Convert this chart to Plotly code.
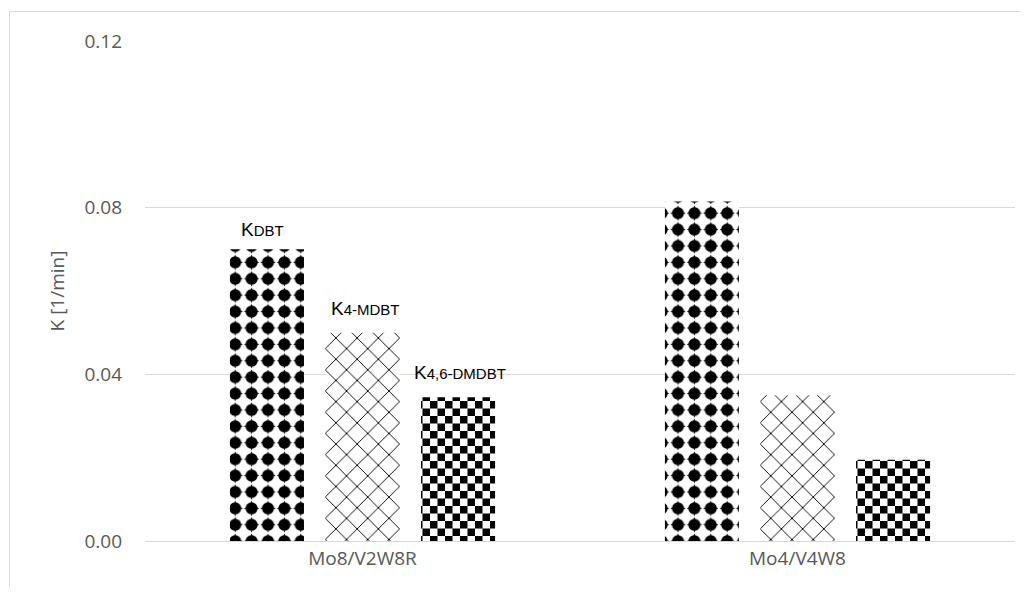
import plotly.graph_objects as go

categories = ["Mo8/V2W8R", "Mo4/V4W8"]
k_dbt = [0.070, 0.0815]
k_4mdbt = [0.050, 0.035]
k_46dmdbt = [0.0345, 0.0195]
labels_dbt = ["K<span style='font-size:15px'>DBT</span>", ""]
labels_4mdbt = ["K<span style='font-size:15px'>4-MDBT</span>", ""]
labels_46 = ["K<span style='font-size:15px'>4,6-DMDBT</span>", ""]
y_ticks = [0.00, 0.04, 0.08, 0.12]

blob_path = ("M2.2,8.2 A6,6 0 1,1 14.2,8.2 A6,6 0 1,1 2.2,8.2 Z "
             "M8.2,0.6 Q10.2,6.2 15.8,8.2 Q10.2,10.2 8.2,15.8 Q6.2,10.2 0.6,8.2 Q6.2,6.2 8.2,0.6 Z")
checker_path = "M0,0H7.5V7.5H0Z M7.5,7.5H15V15H7.5Z"

series = [
    ("KDBT", k_dbt, labels_dbt, dict(path=blob_path, size=16.4), -5, 7),
    ("K4-MDBT", k_4mdbt, labels_4mdbt, dict(shape="x", size=15, solidity=0.12), 3, 12),
    ("K4,6-DMDBT", k_46dmdbt, labels_46, dict(path=checker_path, size=15), 2, 12),
]
fallbacks = [dict(shape=".", size=15.5, solidity=0.6), None, dict(shape=".", size=10.6, solidity=0.5)]

slot_px = 95.5  # width of one bar slot within a group (px)

fig = go.Figure()
annotations = []
for i, (name, vals, txt, pat, xnudge, yshift) in enumerate(series):
    try:
        pattern = go.bar.marker.Pattern(fgcolor="black", bgcolor="white", fillmode="replace", **pat)
    except Exception:
        pattern = go.bar.marker.Pattern(fgcolor="black", bgcolor="white", fillmode="replace", **fallbacks[i])
    fig.add_trace(go.Bar(
        x=categories, y=vals, name=name,
        marker=dict(color="white", line=dict(width=0), pattern=pattern),
    ))
    for cat, v, t in zip(categories, vals, txt):
        if t:
            annotations.append(dict(
                x=cat, y=v, xref="x", yref="y", text=t, showarrow=False,
                yanchor="bottom", xanchor="center",
                xshift=(i - 1) * slot_px + xnudge, yshift=yshift,
                font=dict(family="Liberation Sans, Arial", size=19, color="black"),
            ))

# page body has an 8px margin; offsets below compensate for it
fig.update_layout(
    width=1013, height=579,
    margin=dict(l=137, r=6, t=33, b=46),
    paper_bgcolor="white", plot_bgcolor="white",
    showlegend=False,
    barmode="group", bargap=0.341, bargroupgap=0.225,
    font=dict(family="Open Sans, sans-serif", color="#595959", size=19),
    xaxis=dict(showline=True, linecolor="#d9d9d9", linewidth=1, ticks="",
               tickfont=dict(size=19, color="#595959")),
    yaxis=dict(range=[0, 0.12], tickvals=y_ticks, tickformat=".2f",
               showgrid=True, gridcolor="#d9d9d9", gridwidth=1, zeroline=False,
               showline=False, ticks="", ticklabelstandoff=22,
               title=dict(text="K [1/min]", standoff=14, font=dict(size=19, color="#595959")),
               tickfont=dict(size=19, color="#595959")),
    annotations=annotations,
    shapes=[dict(type="rect", xref="paper", yref="paper",
                 x0=(1.5 - 137) / 870, x1=1.2, y0=-0.3, y1=1 + (33 - 3.5) / 500,
                 line=dict(color="#d9d9d9", width=1), fillcolor="rgba(0,0,0,0)", layer="below")],
)

fig.write_html("out.html")
